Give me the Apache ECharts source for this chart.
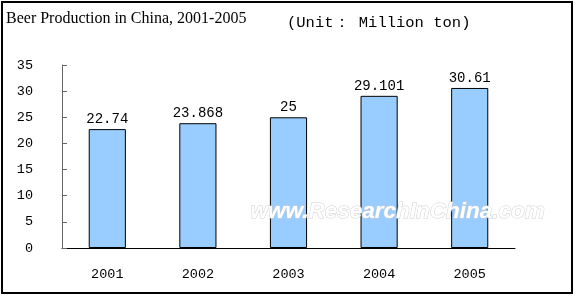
<!DOCTYPE html>
<html><head><meta charset="utf-8">
<script src="https://cdn.jsdelivr.net/npm/echarts@6/dist/echarts.min.js"></script>
<style>html,body{margin:0;padding:0;background:#fff}#c{width:575px;height:296px}</style>
</head><body><div id="c"></div>
<script>
const categories = ['2001','2002','2003','2004','2005'];
const production = [22.74, 23.868, 25, 29.101, 30.61];
const labelTexts = ['22.74','23.868','25','29.101','30.61'];
const yTicks = {min:0, max:35, interval:5};
const titleText = 'Beer Production in China, 2001-2005';
const unitText = '(Unit\uFF1A Million ton)';
const watermark = 'www.ResearchInChina.com';

const chart = echarts.init(document.getElementById('c'), null, {renderer:'canvas'});
const mono = '"Liberation Mono", "DejaVu Sans Mono", monospace';
chart.setOption({
  animation:false,
  backgroundColor:'#fff',
  grid:{left:62, right:60, top:65, bottom:48},
  graphic:[
    {type:'rect', shape:{x:2,y:2,width:570,height:291}, style:{fill:'none', stroke:'#000', lineWidth:2}, z:0},
    {type:'text', left:6, top:11, style:{text:titleText, font:'16px "Liberation Serif", "Times New Roman", serif', fill:'#000'}},
    {type:'text', left:287, top:15, style:{text:unitText, font:'15.5px '+mono, fill:'#000'}},
    {type:'text', left:250, top:200, z:100, style:{text:watermark, font:'italic bold 22.5px "Liberation Sans", Arial, sans-serif', fill:'#ffffff', stroke:'#d0d0d0', lineWidth:1, shadowColor:'rgba(0,0,0,0.5)', shadowBlur:3, shadowOffsetX:1, shadowOffsetY:1}}
  ],
  xAxis:{
    type:'category', data:categories,
    axisLine:{lineStyle:{color:'#000', width:1}},
    axisTick:{inside:true, length:5, lineStyle:{color:'#000'}},
    axisLabel:{margin:19, fontFamily:mono, fontSize:13.5, color:'#000'},
    splitLine:{show:false}
  },
  yAxis:{
    type:'value', min:yTicks.min, max:yTicks.max, interval:yTicks.interval,
    axisLine:{show:true, lineStyle:{color:'#666', width:1}},
    axisTick:{show:true, inside:true, length:5, lineStyle:{color:'#666'}},
    axisLabel:{margin:29, fontFamily:mono, fontSize:13.5, color:'#000', padding:[8,0,0,0]},
    splitLine:{show:false}
  },
  series:[{
    type:'bar', data:production, barWidth:'41%',
    itemStyle:{color:'#99CCFF', borderColor:'#000', borderWidth:1},
    label:{show:true, position:'top', distance:3, fontFamily:mono, fontSize:14, color:'#000',
      formatter:p=>labelTexts[p.dataIndex]}
  }]
});
</script></body></html>
